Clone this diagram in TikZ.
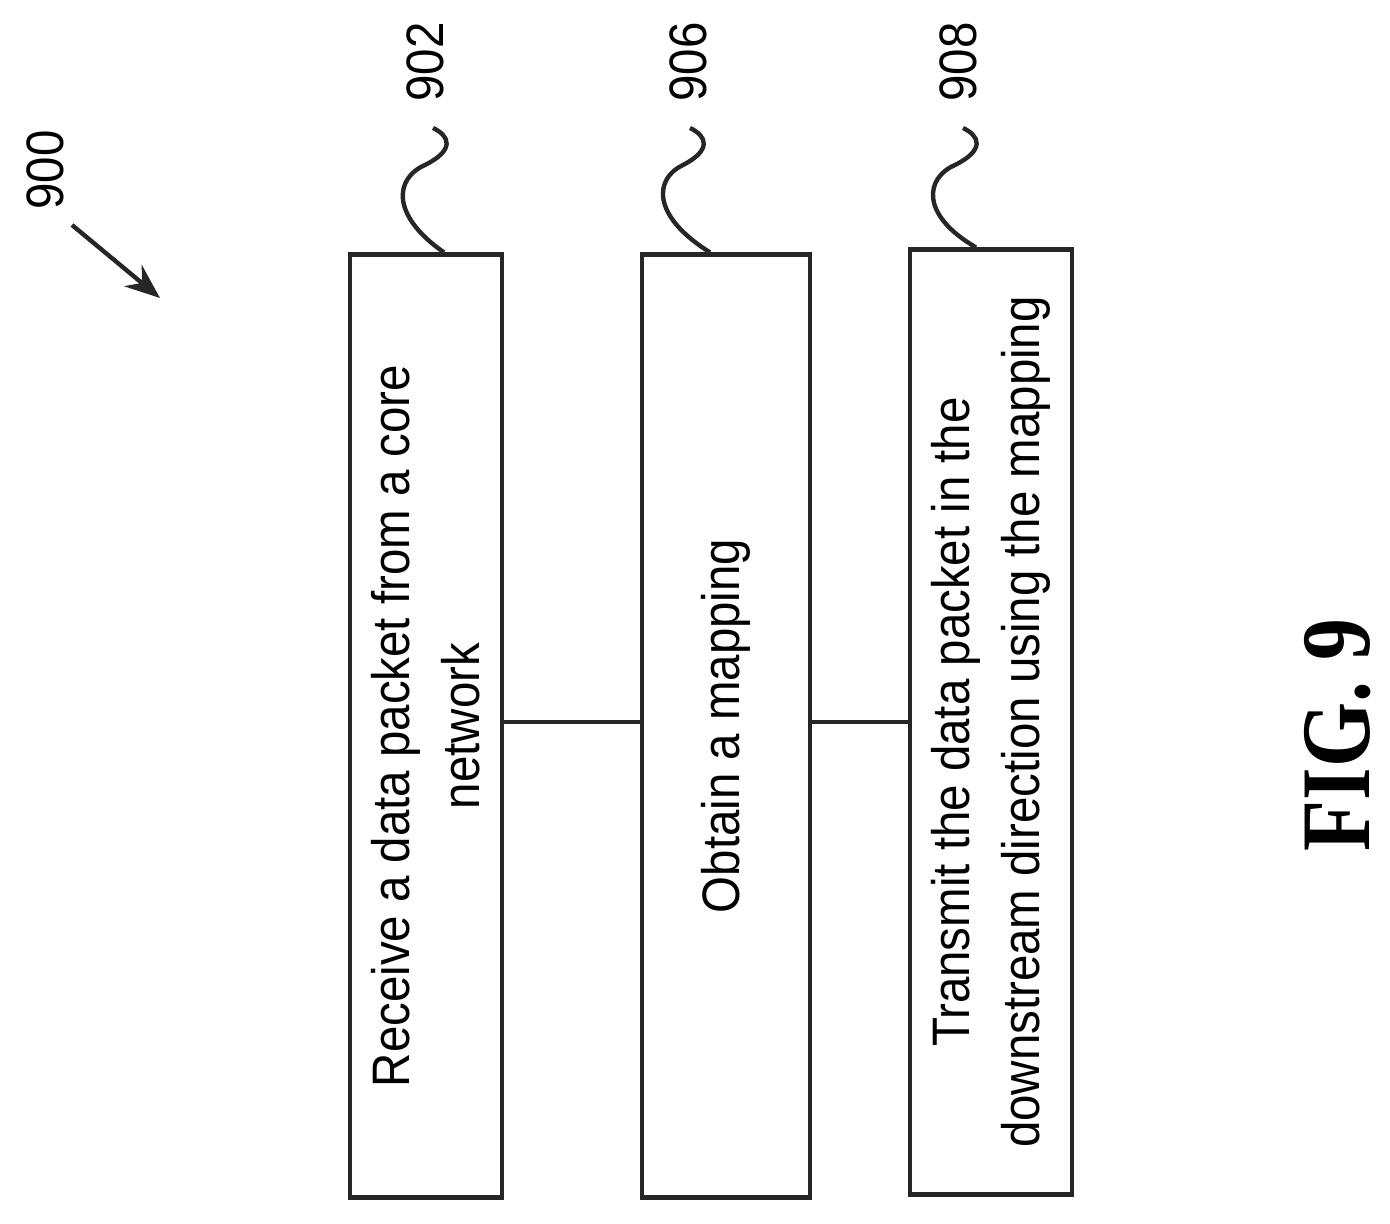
\documentclass[tikz,border=0pt]{standalone}
\usepackage{fontspec}
\setmainfont{Liberation Sans}
\newfontfamily\figfont{Liberation Serif}
\usetikzlibrary{arrows.meta}
\tikzset{
  stepbox/.style = {draw=black!85, line width=2.5pt, inner sep=0pt},
  steptext/.style = {rotate=90, align=center, font=\fontsize{30}{40}\selectfont},
  refnum/.style = {rotate=90, font=\fontsize{30}{36}\selectfont},
  lead/.style = {draw=black!85, line width=2.5pt}
}
\newcommand{\squeeze}[1]{\scalebox{0.9}[1]{#1}}
\begin{document}
\begin{tikzpicture}[x=0.02cm, y=0.02cm]
  \useasboundingbox (0,0) rectangle (1390,-1224);
  % step boxes
  \node[stepbox, minimum width=3.04cm, minimum height=18.86cm] (b1) at (426,-726) {};
  \node[stepbox, minimum width=3.36cm, minimum height=18.86cm] (b2) at (726,-726) {};
  \node[stepbox, minimum width=3.24cm, minimum height=18.9cm] (b3) at (991,-722) {};
  \node[steptext] (t1) at (b1) {\squeeze{Receive a data packet from a core}\\\squeeze{network}};
  \node[steptext] (t2) at (b2) {\squeeze{Obtain a mapping}};
  \node[steptext] (t3) at (b3) {\squeeze{Transmit the data packet in the}\\\squeeze{downstream direction using the mapping}};
  % connectors
  \coordinate (mid) at (0,-722);
  \draw[lead] (b1.east |- mid) -- (b2.west |- mid);
  \draw[lead] (b2.east |- mid) -- (b3.west |- mid);
  % reference numerals
  \node[refnum] (n900) at (45,-170) {\squeeze{900}};
  \node[refnum] (n902) at (425,-62) {\squeeze{902}};
  \node[refnum] (n906) at (688,-62) {\squeeze{906}};
  \node[refnum] (n908) at (958,-62) {\squeeze{908}};
  \coordinate (e902) at (433,-128);
  \coordinate (e906) at (690,-128);
  \coordinate (e908) at (963,-128);
  \draw[lead] ([xshift=0.36cm]b1.north) .. controls (390,-215) and (395,-178) .. (425,-165)
    .. controls (455,-150) and (450,-136) .. (e902);
  \draw[lead] ([xshift=-0.32cm]b2.north) .. controls (650,-215) and (655,-178) .. (683,-165)
    .. controls (712,-150) and (707,-136) .. (e906);
  \draw[lead] ([xshift=-0.3cm]b3.north) .. controls (920,-215) and (925,-178) .. (955,-165)
    .. controls (985,-150) and (980,-136) .. (e908);
  % figure arrow
  \coordinate (a0) at (72,-225);
  \coordinate (a1) at (160,-298);
  \draw[lead, -{Stealth[length=0.7cm, width=0.55cm]}] (a0) -- (a1);
  % figure label
  \node[rotate=90, font=\figfont\bfseries\fontsize{56}{60}\selectfont] (fig) at (1338,-735)
    {\scalebox{0.85}[1]{FIG. 9}};
\end{tikzpicture}
\end{document}
